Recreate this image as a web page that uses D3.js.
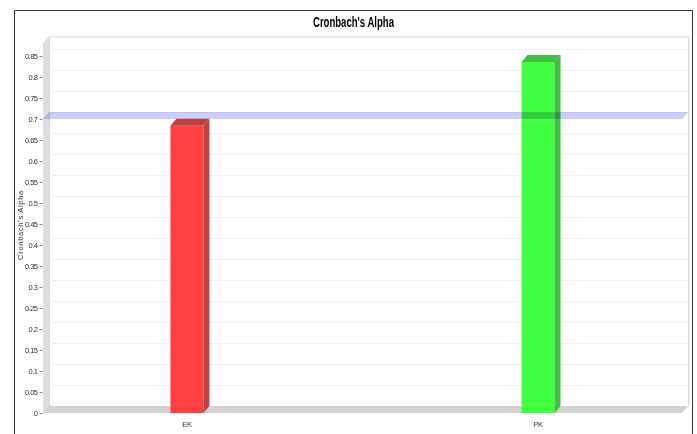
<!DOCTYPE html>
<html>
<head>
<meta charset="utf-8">
<script src="https://cdn.jsdelivr.net/npm/d3@7"></script>
<style>
  body { margin: 0; background: #fff; }
  text { font-family: "Liberation Sans", Arial, sans-serif; }
</style>
</head>
<body>
<div id="chart"></div>
<script>
// data
let categories = ["EK", "PK"];
let alphas = [0.684, 0.836];
let barColors = ["#ff4040", "#40ff40"];
let barDark = ["#c04040", "#40c040"];
let yTicks = [0, 0.05, 0.1, 0.15, 0.2, 0.25, 0.3, 0.35, 0.4, 0.45, 0.5, 0.55, 0.6, 0.65, 0.7, 0.75, 0.8, 0.85];
let threshold = 0.7;

let width = 697, height = 434;
let dx = 6, dy = 7; // 3d depth

let svg = d3.select("#chart").append("svg")
    .attr("width", width)
    .attr("height", height);

// outer frame
svg.append("path")
    .attr("d", "M14.5,440 V10.5 H692.5 V440")
    .attr("fill", "none")
    .attr("stroke", "#333")
    .attr("stroke-width", 1);

svg.append("text")
    .attr("x", 353.5)
    .attr("y", 27)
    .attr("text-anchor", "middle")
    .attr("textLength", 81)
    .attr("lengthAdjust", "spacingAndGlyphs")
    .style("font-size", "14px")
    .style("font-weight", "bold")
    .text("Cronbach's Alpha");

let x = d3.scalePoint()
    .domain(categories)
    .range([43, 682])
    .padding(0.41);

let y = d3.scaleLinear()
    .domain([0, 0.88])
    .range([413, 43.4]);

let x0 = 43, x1 = 682, yTop = y(0.88), yBot = y(0);

// back wall
svg.append("rect")
    .attr("x", x0 + dx + 0.5)
    .attr("y", yTop - dy + 0.5)
    .attr("width", x1 - x0)
    .attr("height", yBot - yTop)
    .attr("fill", "#fff")
    .attr("stroke", "#d8d8d8");

// grid lines on back wall
svg.append("g")
    .selectAll("line")
    .data(yTicks.filter(d => d > 0))
    .enter().append("line")
    .attr("x1", x0 + dx)
    .attr("x2", x1 + dx)
    .attr("y1", d => Math.round(y(d) - dy) + 0.5)
    .attr("y2", d => Math.round(y(d) - dy) + 0.5)
    .attr("stroke", "#e4e4e4")
    .attr("stroke-dasharray", "1,1");

// left wall
svg.append("path")
    .attr("d", `M${x0},${yTop} L${x0 + dx},${yTop - dy} L${x0 + dx},${yBot - dy} L${x0},${yBot} Z`)
    .attr("fill", "#dedede");

// floor
svg.append("path")
    .attr("d", `M${x0},${yBot} L${x0 + dx},${yBot - dy} L${x1 + dx},${yBot - dy} L${x1},${yBot} Z`)
    .attr("fill", "#d2d2d2");

// y axis
let yAxis = svg.append("g")
    .attr("transform", "translate(" + (x0 - 0.5) + ",0)")
    .call(d3.axisLeft(y).tickValues(yTicks).tickSize(3).tickPadding(2).tickFormat(d3.format("~g")));
yAxis.select(".domain").remove();
yAxis.selectAll("line").attr("stroke", "#888");
yAxis.selectAll("text")
    .style("font-size", "7.5px")
    .style("letter-spacing", "-0.5px")
    .attr("fill", "#333");

svg.append("text")
    .attr("transform", "translate(23,225) rotate(-90)")
    .attr("text-anchor", "middle")
    .style("font-size", "7.5px")
    .style("letter-spacing", "0.7px")
    .attr("fill", "#333")
    .text("Cronbach's Alpha");

// x axis labels
svg.append("g")
    .selectAll("text")
    .data(categories)
    .enter().append("text")
    .attr("x", d => x(d))
    .attr("y", 427)
    .attr("text-anchor", "middle")
    .style("font-size", "7.5px")
    .style("letter-spacing", "-0.3px")
    .attr("fill", "#333")
    .text(d => d);

// bars
let bw = 33;
let bars = svg.append("g")
    .selectAll("g")
    .data(categories.map((c, i) => ({cat: c, v: alphas[i], c1: barColors[i], c2: barDark[i]})))
    .enter().append("g");

bars.append("rect")
    .attr("x", d => x(d.cat) - bw / 2)
    .attr("y", d => y(d.v))
    .attr("width", bw)
    .attr("height", d => yBot - y(d.v))
    .attr("fill", d => d.c1);

bars.append("path")
    .attr("d", d => {
        let l = x(d.cat) + bw / 2, t = y(d.v);
        return `M${l},${t} L${l + dx},${t - dy} L${l + dx},${yBot - dy} L${l},${yBot} Z`;
    })
    .attr("fill", d => d.c2);

bars.append("path")
    .attr("d", d => {
        let l = x(d.cat) - bw / 2, r = x(d.cat) + bw / 2, t = y(d.v);
        return `M${l},${t} L${l + dx},${t - dy} L${r + dx},${t - dy} L${r},${t} Z`;
    })
    .attr("fill", d => d.c2);

// threshold band at 0.7
let ty = y(threshold);
svg.append("path")
    .attr("d", `M${x0},${ty} L${x0 + dx},${ty - dy} L${x1 + dx},${ty - dy} L${x1},${ty} Z`)
    .attr("fill", "#ccccff")
    .style("mix-blend-mode", "multiply");
</script>
</body>
</html>
